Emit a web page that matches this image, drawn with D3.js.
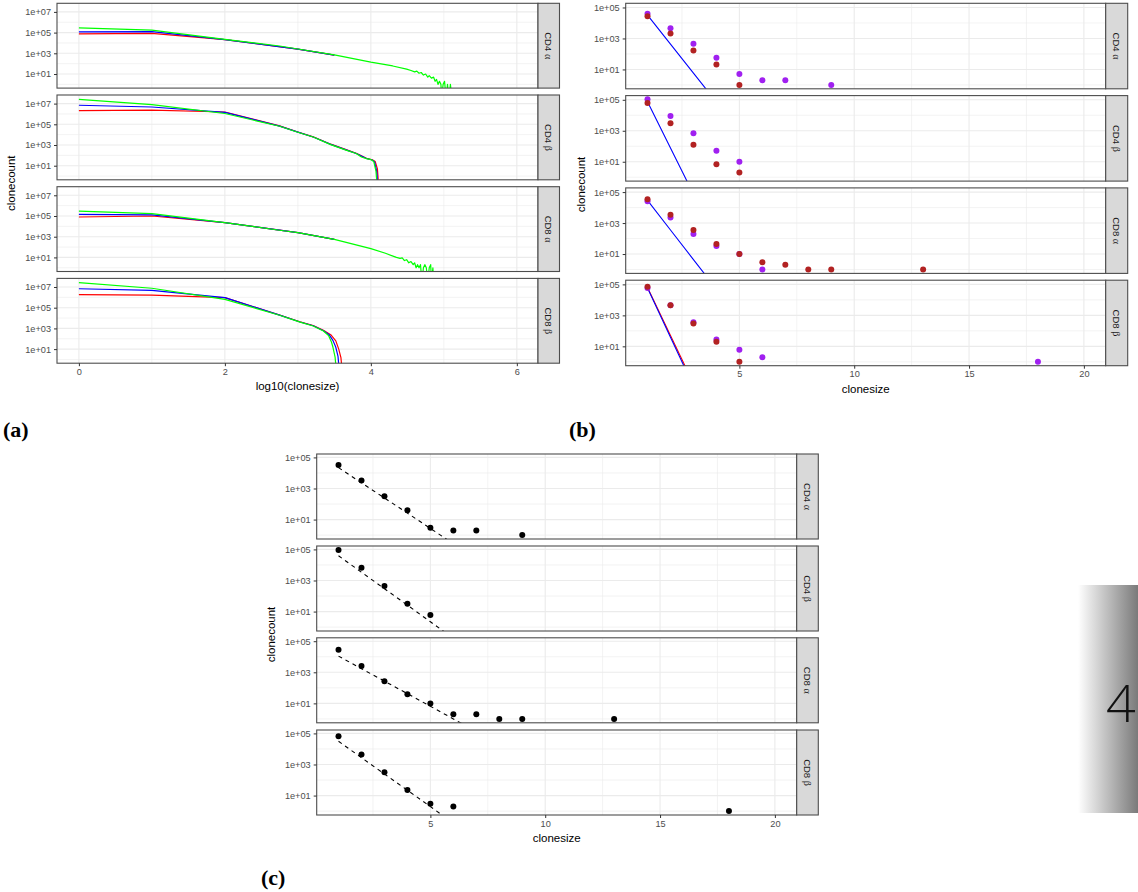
<!DOCTYPE html>
<html>
<head>
<meta charset="utf-8">
<script src="https://cdn.jsdelivr.net/npm/d3@7"></script>
<style>
body { margin: 0; background: #fff; }
svg { display: block; font-family: "Liberation Sans", Arial, sans-serif; }
</style>
</head>
<body>
<svg id="chart" width="1138" height="892"></svg>
<script>
// facet rows, shared by all three figures
const facetNames = [["CD4", "α"], ["CD4", "β"], ["CD8", "α"], ["CD8", "β"]];

// (a) x = log10(clonesize), y = clonecount; one list per facet
const aRed = [
    [[0, 7.4e4], [1, 8.5e4], [2, 2.1e4], [3, 2.5e3], [3.5, 6.8e2]],
    [[0, 2.1e6], [1, 2.3e6], [2, 1.55e6], [2.75, 7e4], [3, 1.8e4], [3.21, 6.2e3], [3.45, 1.2e3], [3.67, 3.4e2],
     [3.8, 160], [3.94, 52], [4.02, 38], [4.06, 25], [4.09, 5], [4.11, 0]],
    [[0, 8e4], [1, 1e5], [2, 2.3e4], [3, 2.5e3], [3.5, 5.5e2]],
    [[0, 1.8e6], [1, 1.65e6], [2, 9.3e5], [2.75, 1.95e4], [3.03, 4.4e3], [3.21, 1.9e3], [3.35, 6.6e2], [3.45, 2.5e2],
     [3.52, 63], [3.56, 10], [3.59, 1.5], [3.61, 0]]
];
const aBlue = [
    [[0, 1.15e5], [1, 1.25e5], [2, 2.1e4], [3, 2.5e3], [3.5, 6.8e2]],
    [[0, 6.9e6], [1, 4.7e6], [2, 1.4e6], [2.75, 6.7e4], [3, 1.75e4], [3.21, 6e3], [3.45, 1.15e3], [3.67, 3.2e2],
     [3.8, 150], [3.94, 50], [4.01, 38], [4.05, 24], [4.08, 3], [4.1, 0]],
    [[0, 1.45e5], [1, 1.3e5], [2, 2.3e4], [3, 2.5e3], [3.5, 5.5e2]],
    [[0, 6.8e6], [1, 4.8e6], [2, 9.3e5], [2.75, 1.9e4], [3.03, 4.2e3], [3.21, 1.8e3], [3.35, 6e2], [3.43, 2.4e2],
     [3.48, 70], [3.52, 15], [3.55, 2], [3.57, 0]]
];
const aGreen = [
    [[0, 2.8e5], [1, 1.7e5], [2, 2.2e4], [2.75, 5.1e3], [3, 2.6e3], [3.5, 7e2], [4, 1.4e2], [4.3, 60], [4.49, 30],
     [4.55, 22], [4.6, 16], [4.63, 19], [4.66, 12], [4.69, 14], [4.72, 8], [4.75, 10], [4.78, 5], [4.8, 7],
     [4.83, 4], [4.86, 5], [4.88, 2], [4.9, 3], [4.92, 1], [4.94, 2], [4.96, 1], [4.97, 0], [4.99, 1], [5.01, 2],
     [5.03, 0], [5.05, 1], [5.07, 0], [5.09, 1], [5.11, 0]],
    [[0, 2.6e7], [1, 7.9e6], [2, 1.1e6], [2.75, 6.5e4], [3, 1.7e4], [3.21, 5.9e3], [3.45, 1.1e3], [3.67, 3e2],
     [3.8, 150], [3.87, 70], [3.94, 49], [4, 39], [4.04, 25], [4.07, 3], [4.09, 0]],
    [[0, 3e5], [1, 1.7e5], [2, 2.3e4], [2.75, 4.2e3], [3, 2.5e3], [3.5, 5.5e2], [4, 70], [4.2, 25], [4.35, 10],
     [4.4, 8], [4.43, 9], [4.46, 5], [4.49, 6], [4.52, 3], [4.55, 4], [4.58, 2], [4.6, 3], [4.62, 1], [4.64, 2],
     [4.66, 1], [4.68, 2], [4.7, 0], [4.72, 1], [4.74, 2], [4.76, 1], [4.78, 0], [4.8, 1], [4.82, 2], [4.83, 0],
     [4.85, 1], [4.86, 0]],
    [[0, 2.6e7], [1, 7.6e6], [2, 6.3e5], [2.75, 1.85e4], [3.03, 4e3], [3.21, 1.7e3], [3.35, 5.6e2], [3.42, 2.1e2],
     [3.46, 49], [3.48, 16], [3.51, 1.7], [3.53, 0]]
];

// (b) x = clonesize, y = clonecount
const bPurple = [
    [[1, 4e4], [2, 4.5e3], [3, 450], [4, 56], [5, 5], [6, 2], [7, 2], [9, 1]],
    [[1, 1.07e5], [2, 9e3], [3, 680], [4, 51], [5, 10]],
    [[1, 2.6e4], [2, 2.3e3], [3, 200], [4, 33], [5, 10], [6, 1]],
    [[1, 5.8e4], [2, 4.5e3], [3, 355], [4, 28], [5, 6], [6, 2], [18, 1]]
];
const bBrown = [
    [[1, 2.75e4], [2, 2.1e3], [3, 170], [4, 21], [5, 1]],
    [[1, 6.2e4], [2, 3e3], [3, 126], [4, 7], [5, 2]],
    [[1, 3.5e4], [2, 3.4e3], [3, 360], [4, 45], [5, 10], [6, 3], [7, 2], [8, 1], [9, 1], [13, 1]],
    [[1, 7e4], [2, 4.5e3], [3, 300], [4, 20], [5, 1]]
];
// red fit only shows (just beside the blue one) in the CD8 β row
const bRedFit = [
    [],
    [],
    [],
    [[1, 6.3e4], [2, 50], [3, 0.04]]
];
const bBlueFit = [
    [[1, 3.2e4], [2, 430], [3, 5.8], [4, 0.078]],
    [[1, 7.4e4], [2, 78], [3, 0.081]],
    [[1, 2.9e4], [2, 355], [3, 4.4], [4, 0.054]],
    [[1, 5.8e4], [2, 39], [3, 0.026]]
];

// (c) x = clonesize, y = clonecount
const cPoints = [
    [[1, 3.2e4], [2, 3.3e3], [3, 320], [4, 40], [5, 3], [6, 2], [7, 2], [9, 1]],
    [[1, 9.3e4], [2, 6.6e3], [3, 450], [4, 32], [5, 6]],
    [[1, 2.8e4], [2, 2.5e3], [3, 270], [4, 39], [5, 10], [6, 2], [7, 2], [8, 1], [9, 1], [13, 1]],
    [[1, 6.5e4], [2, 4.4e3], [3, 320], [4, 23], [5, 3], [6, 2], [18, 1]]
];
const cFit = [
    [[1, 2.2e4], [2, 2.3e3], [3, 245], [4, 26], [5, 2.7], [6, 0.28]],
    [[1, 3.9e4], [2, 3.4e3], [3, 295], [4, 26], [5, 2.2], [6, 0.19]],
    [[1, 1.1e4], [2, 1.7e3], [3, 270], [4, 42], [5, 6.5], [6, 1], [7, 0.15]],
    [[1, 3.1e4], [2, 2.75e3], [3, 245], [4, 22], [5, 1.95], [6, 0.17]]
];

// axis ticks
const aXTicks = [0, 2, 4, 6];
const aXMinor = [1, 3, 5];
const aYTicks = [1e1, 1e3, 1e5, 1e7];
const aYMinor = [1e0, 1e2, 1e4, 1e6];
const sizeTicks = [5, 10, 15, 20];
const sizeMinor = [2.5, 7.5, 12.5, 17.5];
const countTicks = [1e1, 1e3, 1e5];
const countMinor = [1e0, 1e2, 1e4];

const svg = d3.select("#chart");
const defs = svg.append("defs");
const fontSans = "Liberation Sans, Arial, sans-serif";
const gridColor = "#ebebeb";
const borderColor = "#4d4d4d";

function sciFormat(d) {
    const e = Math.round(Math.log10(d));
    return "1e+" + String(e).padStart(2, "0");
}

function styleAxis(g) {
    g.attr("font-size", 9.2).attr("font-family", fontSans);
    g.select(".domain").remove();
    g.selectAll(".tick line").attr("stroke", "#333");
    g.selectAll(".tick text").attr("fill", "#4d4d4d");
}

function facetGrid(cfg) {
    const x = d3.scaleLinear().domain(cfg.xDomain).range([cfg.left, cfg.right]);
    cfg.tops.forEach((top, i) => {
        const bottom = top + cfg.h;
        const y = d3.scaleLog().domain(cfg.yDomain).range([bottom, top]);
        const g = svg.append("g");
        g.append("rect")
            .attr("x", cfg.left).attr("y", top)
            .attr("width", cfg.right - cfg.left).attr("height", cfg.h)
            .attr("fill", "#fff");
        // grid
        g.selectAll(".ymin").data(cfg.yMinor).join("line")
            .attr("x1", cfg.left).attr("x2", cfg.right)
            .attr("y1", d => y(d)).attr("y2", d => y(d))
            .attr("stroke", gridColor).attr("stroke-width", 0.6);
        g.selectAll(".xmin").data(cfg.xMinor).join("line")
            .attr("x1", d => x(d)).attr("x2", d => x(d))
            .attr("y1", top).attr("y2", bottom)
            .attr("stroke", gridColor).attr("stroke-width", 0.6);
        g.selectAll(".ymaj").data(cfg.yTicks).join("line")
            .attr("x1", cfg.left).attr("x2", cfg.right)
            .attr("y1", d => y(d)).attr("y2", d => y(d))
            .attr("stroke", gridColor).attr("stroke-width", 1.1);
        g.selectAll(".xmaj").data(cfg.xTicks).join("line")
            .attr("x1", d => x(d)).attr("x2", d => x(d))
            .attr("y1", top).attr("y2", bottom)
            .attr("stroke", gridColor).attr("stroke-width", 1.1);

        const clipId = `${cfg.id}-clip-${i}`;
        defs.append("clipPath").attr("id", clipId)
            .append("rect")
            .attr("x", cfg.left).attr("y", top)
            .attr("width", cfg.right - cfg.left).attr("height", cfg.h);
        const marks = g.append("g").attr("clip-path", `url(#${clipId})`);
        cfg.draw(marks, x, y, i, bottom);

        // panel border
        g.append("rect")
            .attr("x", cfg.left).attr("y", top)
            .attr("width", cfg.right - cfg.left).attr("height", cfg.h)
            .attr("fill", "none").attr("stroke", borderColor).attr("stroke-width", 1.1);
        // strip
        g.append("rect")
            .attr("x", cfg.right).attr("y", top)
            .attr("width", cfg.stripW).attr("height", cfg.h)
            .attr("fill", "#d9d9d9").attr("stroke", borderColor).attr("stroke-width", 1.1);
        const cx = cfg.right + cfg.stripW / 2;
        const cy = top + cfg.h / 2;
        const label = g.append("text")
            .attr("transform", `translate(${cx},${cy}) rotate(90)`)
            .attr("text-anchor", "middle")
            .attr("dy", "0.35em")
            .attr("font-size", 9.5)
            .attr("fill", "#1a1a1a");
        label.append("tspan").text(facetNames[i][0] + " ");
        label.append("tspan").attr("font-family", "Liberation Serif, serif").attr("font-size", 10)
            .text(facetNames[i][1]);

        // y axis
        g.append("g")
            .attr("transform", `translate(${cfg.left},0)`)
            .call(d3.axisLeft(y).tickValues(cfg.yTicks).tickSize(3).tickPadding(3).tickFormat(sciFormat))
            .call(styleAxis);
    });
    const lastBottom = cfg.tops[cfg.tops.length - 1] + cfg.h;
    svg.append("g")
        .attr("transform", `translate(0,${lastBottom})`)
        .call(d3.axisBottom(x).tickValues(cfg.xTicks).tickSize(3).tickPadding(2).tickFormat(d3.format("d")))
        .call(styleAxis);

    // axis titles
    svg.append("text")
        .attr("x", (cfg.left + cfg.right) / 2).attr("y", lastBottom + 27)
        .attr("text-anchor", "middle").attr("font-size", 11.5)
        .text(cfg.xTitle);
    const midY = (cfg.tops[0] + lastBottom) / 2;
    svg.append("text")
        .attr("transform", `translate(${cfg.yTitleX},${midY}) rotate(-90)`)
        .attr("text-anchor", "middle").attr("font-size", 11.5)
        .text("clonecount");
}

function countLine(x, y, bottom) {
    return d3.line()
        .x(d => x(d[0]))
        .y(d => (d[1] > 0 ? y(d[1]) : bottom + 10));
}

// (a)
facetGrid({
    id: "a", left: 57, right: 538, stripW: 21.5,
    tops: [3.3, 95, 186.7, 278.4], h: 84.8,
    xDomain: [-0.3, 6.29], yDomain: [10 ** -0.36, 10 ** 7.83],
    xTicks: aXTicks, xMinor: aXMinor, yTicks: aYTicks, yMinor: aYMinor,
    xTitle: "log10(clonesize)", yTitleX: 15,
    draw: (g, x, y, i, bottom) => {
        const line = countLine(x, y, bottom);
        [[aRed, "#ff0000"], [aBlue, "#0000ff"], [aGreen, "#00ff00"]].forEach(([series, color]) => {
            g.append("path")
                .attr("d", line(series[i]))
                .attr("fill", "none").attr("stroke", color)
                .attr("stroke-width", 1.2).attr("stroke-linejoin", "round");
        });
    }
});

// (b)
facetGrid({
    id: "b", left: 625.7, right: 1105.7, stripW: 22,
    tops: [3.3, 95.6, 187.9, 280.2], h: 85.5,
    xDomain: [0.05, 20.95], yDomain: [10 ** -0.25, 10 ** 5.27],
    xTicks: sizeTicks, xMinor: sizeMinor, yTicks: countTicks, yMinor: countMinor,
    xTitle: "clonesize", yTitleX: 585,
    draw: (g, x, y, i, bottom) => {
        const line = countLine(x, y, bottom);
        if (bRedFit[i].length) {
            g.append("path").attr("d", line(bRedFit[i]))
                .attr("fill", "none").attr("stroke", "#ff0000").attr("stroke-width", 1.1);
        }
        g.append("path").attr("d", line(bBlueFit[i]))
            .attr("fill", "none").attr("stroke", "#0000ff").attr("stroke-width", 1.1);
        g.selectAll(".p").data(bPurple[i]).join("circle")
            .attr("cx", d => x(d[0])).attr("cy", d => y(d[1])).attr("r", 3)
            .attr("fill", "#a020f0");
        g.selectAll(".q").data(bBrown[i]).join("circle")
            .attr("cx", d => x(d[0])).attr("cy", d => y(d[1])).attr("r", 3)
            .attr("fill", "#b22222");
    }
});

// (c)
facetGrid({
    id: "c", left: 316.7, right: 796.7, stripW: 21.6,
    tops: [454, 546, 637.8, 730], h: 85,
    xDomain: [0.05, 20.95], yDomain: [10 ** -0.25, 10 ** 5.22],
    xTicks: sizeTicks, xMinor: sizeMinor, yTicks: countTicks, yMinor: countMinor,
    xTitle: "clonesize", yTitleX: 275,
    draw: (g, x, y, i, bottom) => {
        const line = countLine(x, y, bottom);
        g.append("path").attr("d", line(cFit[i]))
            .attr("fill", "none").attr("stroke", "#000")
            .attr("stroke-width", 1.1).attr("stroke-dasharray", "4,4");
        g.selectAll(".p").data(cPoints[i]).join("circle")
            .attr("cx", d => x(d[0])).attr("cy", d => y(d[1])).attr("r", 3)
            .attr("fill", "#000");
    }
});

// sub-figure labels
[["(a)", 3, 437], ["(b)", 569, 437], ["(c)", 261, 885]].forEach(([t, lx, ly]) => {
    svg.append("text")
        .attr("x", lx).attr("y", ly)
        .attr("font-family", "Liberation Serif, Times New Roman, serif")
        .attr("font-weight", "bold").attr("font-size", 22)
        .text(t);
});

// page tab at the right edge
const grad = defs.append("linearGradient").attr("id", "tabGrad")
    .attr("x1", "0%").attr("x2", "100%").attr("y1", "0%").attr("y2", "0%");
grad.append("stop").attr("offset", "0%").attr("stop-color", "#ffffff");
grad.append("stop").attr("offset", "100%").attr("stop-color", "#7a7a7a");
svg.append("rect")
    .attr("x", 1078).attr("y", 585).attr("width", 60).attr("height", 228)
    .attr("fill", "url(#tabGrad)");
svg.append("text")
    .attr("x", 1106).attr("y", 722)
    .attr("font-family", "Open Sans, Liberation Sans, sans-serif")
    .attr("font-weight", 300).attr("font-size", 52)
    .attr("fill", "#111")
    .text("4");
</script>
</body>
</html>
